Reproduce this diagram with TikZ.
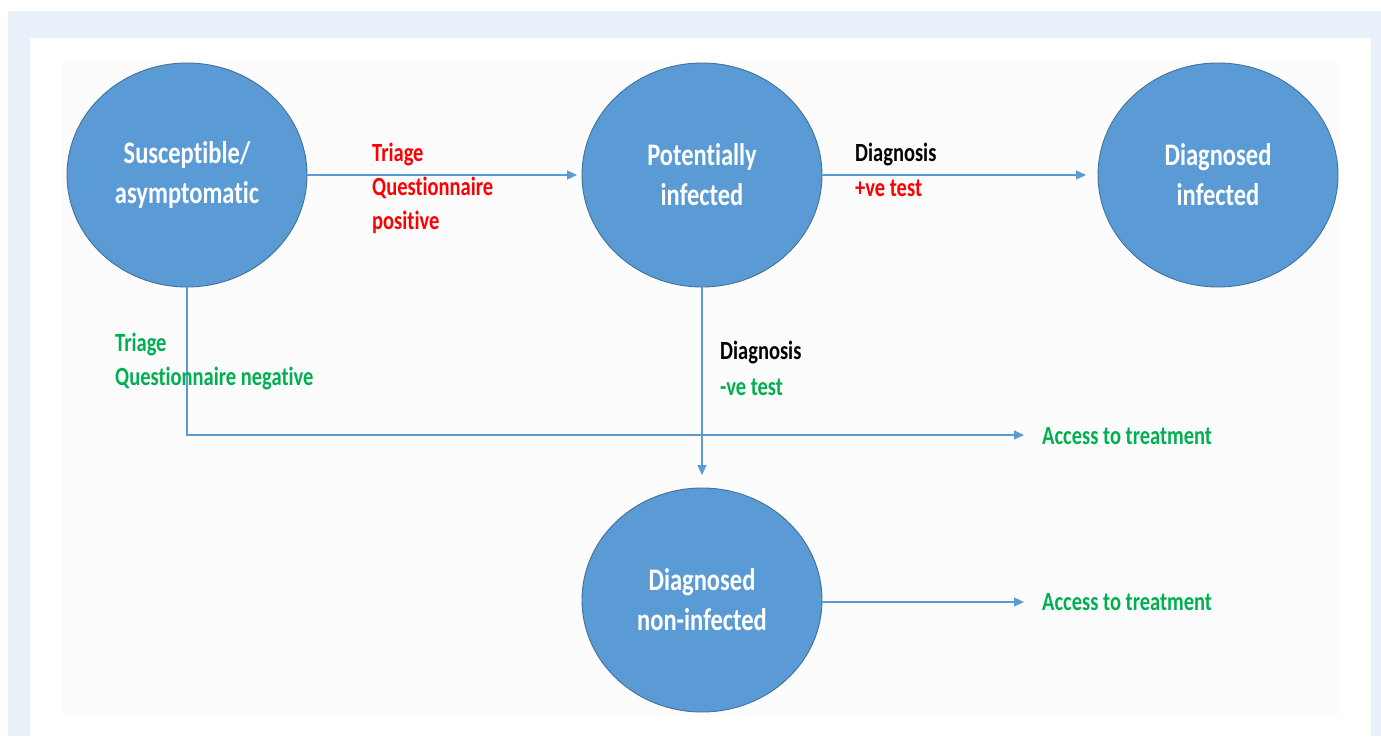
\documentclass[tikz,border=0pt]{standalone}
\usepackage{fontspec}
\setmainfont{Carlito}[Ligatures={NoCommon}]
\usetikzlibrary{arrows.meta,shapes.geometric}
\definecolor{bgblue}{HTML}{E8F0FA}
\definecolor{circfill}{HTML}{5B9BD5}
\definecolor{circline}{HTML}{41719C}
\definecolor{arrowblue}{HTML}{5B9BD5}
\definecolor{txtred}{HTML}{FF0000}
\definecolor{txtgreen}{HTML}{00B050}
\newcommand{\tallline}[1]{\scalebox{1}[1.28]{#1}}
\tikzset{
  state/.style={ellipse, draw=circline, line width=0.9pt, fill=circfill,
    minimum width=240pt, minimum height=224pt, inner sep=0pt,
    text=white, font=\bfseries\fontsize{24.5}{40}\selectfont, align=center},
  flow/.style={draw=arrowblue, line width=1.1pt},
  flowarrow/.style={flow, -{Triangle[length=10pt,width=9pt]}},
  lbl/.style={anchor=west, inner sep=0pt, font=\bfseries\fontsize{20.5}{34}\selectfont, align=left},
}
\begin{document}
\begin{tikzpicture}[x=1pt,y=-1pt]
\useasboundingbox (0,0) rectangle (1381,736);
\fill[white] (0,0) rectangle (1381,736);
\fill[bgblue] (8,11) rectangle (1381,736);
\fill[white] (30,38) rectangle (1371,736);
\fill[gray!2] (62,62) rectangle (1340,716);

\node[state] (sus) at (187,175) {\tallline{Susceptible/}\\\tallline{asymptomatic}};
\node[state] (pot) at (702,175) {\tallline{Potentially}\\\tallline{infected}};
\node[state] (dinf) at (1218,175) {\tallline{Diagnosed}\\\tallline{infected}};
\node[state] (dnon) at (702,600) {\tallline{Diagnosed}\\\tallline{non-infected}};

\coordinate (a1) at (577,175);
\coordinate (a2) at (1086,175);
\coordinate (corner) at (187,435);
\coordinate (a3) at (1024,435);
\coordinate (a4) at (702,475);
\coordinate (a5) at (1024,602);
\coordinate (s5) at (822,602);

\draw[flowarrow] (sus.east) -- (a1);
\draw[flowarrow] (pot.east) -- (a2);
\draw[flowarrow] (sus.south) -- (corner) -- (a3);
\draw[flowarrow] (pot.south) -- (a4);
\draw[flowarrow] (s5) -- (a5);

\node[lbl, text=txtred] (t1) at (372,155) {\tallline{Triage}};
\node[lbl, text=txtred] (t2) at (372,188) {\tallline{Questionnaire}};
\node[lbl, text=txtred] (t3) at (372,222) {\tallline{positive}};
\node[lbl, text=black] (d1) at (855,155) {\tallline{Diagnosis}};
\node[lbl, text=txtred] (d2) at (855,188) {\tallline{+ve test}};
\node[lbl, text=txtgreen] (g1) at (115,345) {\tallline{Triage}};
\node[lbl, text=txtgreen] (g2) at (115,379) {\tallline{Questionnaire negative}};
\node[lbl, text=black] (n1) at (720,353) {\tallline{Diagnosis}};
\node[lbl, text=txtgreen] (n2) at (720,387) {\tallline{-ve test}};
\node[lbl, text=txtgreen] (acc1) at (1042,436) {\tallline{Access to treatment}};
\node[lbl, text=txtgreen] (acc2) at (1042,602) {\tallline{Access to treatment}};
\end{tikzpicture}
\end{document}
